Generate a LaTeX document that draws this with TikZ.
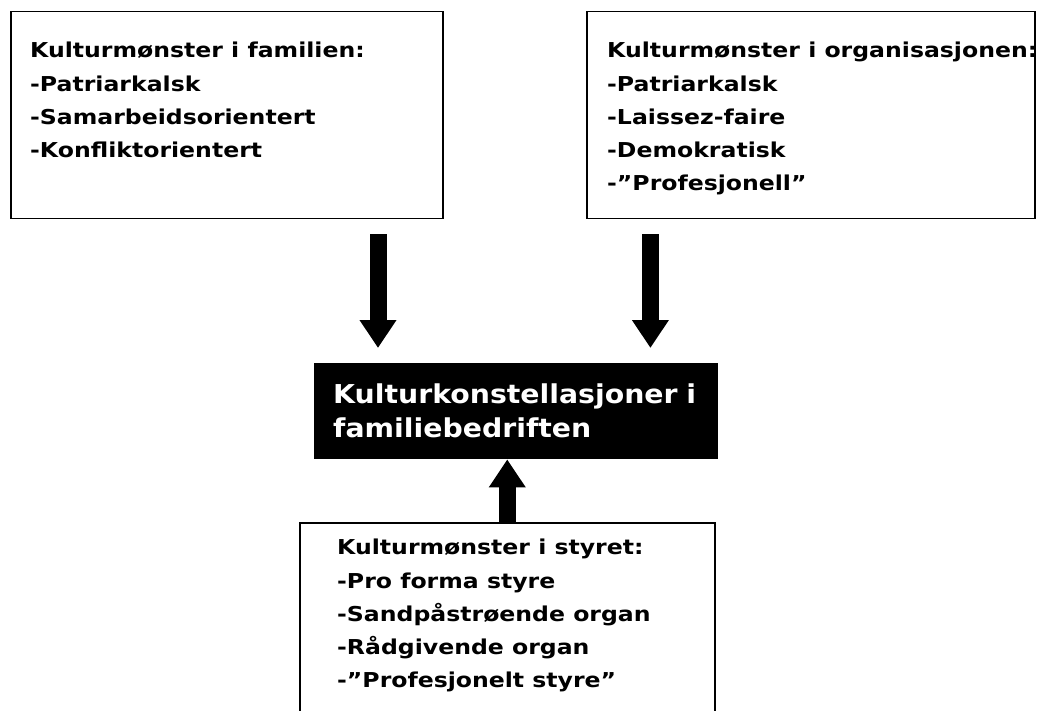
\documentclass[tikz,border=0pt]{standalone}
\usepackage{fontspec}
\setmainfont{DejaVu Sans}
\newfontfamily\listefont{DejaVu Sans}[FakeStretch=1.15]
\newfontfamily\kkfont{DejaVu Sans}[FakeStretch=1.09]
\usetikzlibrary{arrows.meta,positioning}

\begin{document}
\begin{tikzpicture}[x=1pt,y=-1pt,
        boks/.style={draw, line width=1.5pt, anchor=north west, inner sep=0pt},
        liste/.style={align=left, inner sep=0pt, font=\listefont\fontsize{20.5}{33.3}\selectfont\bfseries},
        fatpil/.style={line width=17pt, -{Triangle[width=35pt,length=28pt]}}]
        \useasboundingbox (0,0) rectangle (1038,711);
        \node (familie) at (10,11) [boks, minimum width=432, minimum height=207] {};
        \node (org) at (586,11) [boks, minimum width=448, minimum height=207] {};
        \node (styre) at (299,522) [boks, minimum width=415, minimum height=220] {};
        \node (kk) at (314,363) [anchor=north west, fill=black, text=white, minimum width=404, minimum height=96,
                inner xsep=19pt, text width=366pt, align=left,
                font=\kkfont\fontsize{26}{34}\selectfont\bfseries] {Kulturkonstellasjoner~i\\familiebedriften};
        \node (familietekst) [liste, below right=31pt and 20pt of familie.north west]
                {Kulturmønster i familien:\\-Patriarkalsk\\-Samarbeidsorientert\\-Konfliktorientert};
        \node (orgtekst) [liste, below right=31pt and 21pt of org.north west]
                {Kulturmønster i organisasjonen:\\-Patriarkalsk\\-Laissez-faire\\-Demokratisk\\-”Profesjonell”};
        \node (styretekst) [liste, below right=17pt and 38pt of styre.north west]
                {Kulturmønster i styret:\\-Pro forma styre\\-Sandpåstrøende organ\\-Rådgivende organ\\-”Profesjonelt styre”};
        \draw[fatpil, shorten <=15pt, shorten >=15pt] ([xshift=64pt]kk.north west |- familie.south) -- ([xshift=64pt]kk.north west);
        \draw[fatpil, shorten <=15pt, shorten >=15pt] ([xshift=-68pt]kk.north east |- org.south) -- ([xshift=-68pt]kk.north east);
        \draw[fatpil] (styre.north) -- (styre.north |- kk.south);
\end{tikzpicture}
\end{document}
